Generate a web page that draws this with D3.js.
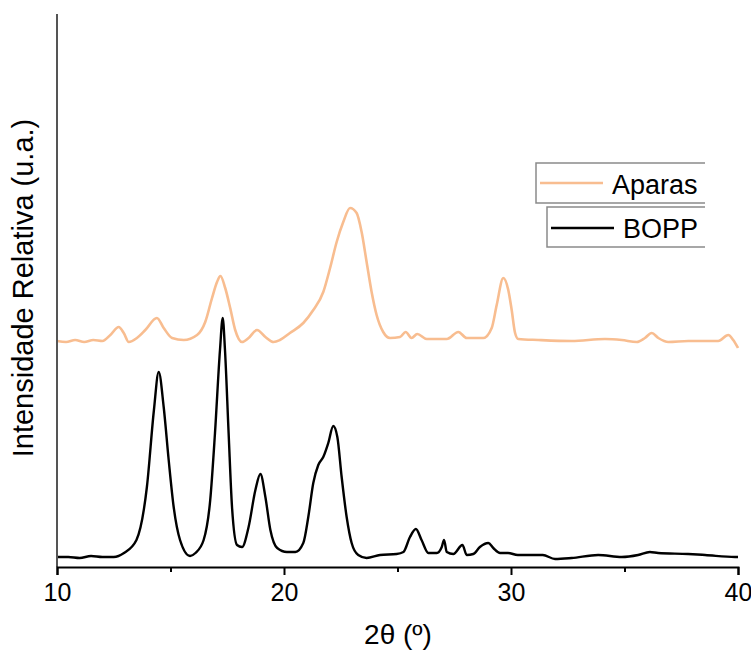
<!DOCTYPE html>
<html>
<head>
<meta charset="utf-8">
<script src="https://cdn.jsdelivr.net/npm/d3@7"></script>
<style>
  html, body { margin: 0; padding: 0; background: #fff; }
  svg { display: block; font-family: "Liberation Sans", Arial, sans-serif; }
</style>
</head>
<body>
<svg id="chart" width="751" height="650"></svg>
<script>
// ---- data (intensity in arbitrary units) ----
const seriesNames = ["Aparas", "BOPP"];
const xTicks = [10, 20, 30, 40];
const xMinorTicks = [15, 25, 35];

const boppTheta = [10.0, 10.5, 11.0, 11.5, 12.0, 12.5, 12.95, 13.5, 13.96, 14.27, 14.48, 14.7, 14.92, 15.14, 15.42, 15.86, 16.1, 16.46, 16.75, 16.96, 17.18, 17.3, 17.4, 17.56, 17.71, 17.93, 18.15, 18.44, 18.74, 18.96, 19.18, 19.4, 19.7, 20.13, 20.5, 20.85, 21.07, 21.29, 21.51, 21.73, 21.95, 22.17, 22.35, 22.54, 22.76, 22.98, 23.27, 23.64, 24.23, 24.96, 25.26, 25.55, 25.81, 26.06, 26.36, 26.73, 26.95, 27.05, 27.17, 27.46, 27.86, 28.05, 28.34, 28.63, 29.0, 29.22, 29.52, 29.87, 30.3, 31.4, 31.94, 32.67, 33.84, 34.88, 35.6, 36.12, 36.48, 37.8, 38.55, 39.87, 40.0];
const boppIntensity = [10, 10, 9, 11, 10, 10, 14, 27, 80, 157, 195, 160, 107, 60, 27, 11, 14, 27, 67, 134, 217, 249, 217, 134, 60, 22, 20, 40, 77, 93, 70, 37, 19, 15, 15, 24, 50, 84, 102, 110, 124, 141, 130, 90, 50, 24, 12, 9, 12, 13, 15, 30, 38, 27, 14, 14, 20, 27, 15, 13, 22, 12, 13, 20, 24, 19, 14, 14, 12, 12, 8, 9, 12, 10, 12, 15, 14, 13, 12, 10, 10];

const aparasTheta = [10.0, 10.4, 10.8, 11.2, 11.6, 12.0, 12.35, 12.72, 12.94, 13.16, 13.52, 13.89, 14.4, 14.7, 15.07, 15.58, 16.17, 16.53, 16.83, 17.05, 17.2, 17.41, 17.63, 17.85, 18.15, 18.44, 18.81, 19.18, 19.54, 19.82, 20.26, 20.85, 21.29, 21.73, 22.03, 22.32, 22.61, 22.91, 23.2, 23.42, 23.64, 23.86, 24.08, 24.37, 24.67, 25.11, 25.36, 25.62, 25.87, 26.29, 27.17, 27.68, 28.05, 28.78, 29.15, 29.37, 29.66, 29.88, 30.03, 30.18, 30.32, 31.2, 32.67, 34.14, 34.88, 35.54, 35.9, 36.2, 36.49, 36.93, 37.81, 39.13, 39.57, 39.79, 40.0];
const aparasIntensity = [226, 225, 227, 225, 227, 226, 232, 240, 234, 225, 229, 237, 249, 239, 229, 227, 232, 245, 269, 285, 291, 279, 259, 237, 225, 229, 237, 230, 225, 227, 234, 244, 257, 275, 299, 325, 345, 359, 354, 335, 305, 275, 252, 235, 229, 230, 235, 229, 233, 228, 228, 235, 229, 229, 239, 262, 289, 277, 257, 234, 228, 227, 226, 228, 227, 225, 229, 234, 229, 225, 226, 226, 232, 227, 219];

const colors = { Aparas: "#f8bd90", BOPP: "#000000" };

// ---- layout ----
const svg = d3.select("#chart");
const x = d3.scaleLinear().domain([10, 40]).range([57, 738]);
const y = d3.scaleLinear().domain([0, 553]).range([567, 14]);

const line = d3.line()
  .x(d => x(d[0]))
  .y(d => y(d[1]))
  .curve(d3.curveMonotoneX);

const aparasData = aparasTheta.map((t, i) => [t, aparasIntensity[i]]);
const boppData = boppTheta.map((t, i) => [t, boppIntensity[i]]);

svg.append("path").datum(aparasData)
  .attr("d", line).attr("fill", "none")
  .attr("stroke", colors.Aparas).attr("stroke-width", 2.6)
  .attr("stroke-linejoin", "round");

svg.append("path").datum(boppData)
  .attr("d", line).attr("fill", "none")
  .attr("stroke", colors.BOPP).attr("stroke-width", 2.4)
  .attr("stroke-linejoin", "round");

// ---- axes ----
// y axis line only
svg.append("line")
  .attr("x1", x(10)).attr("x2", x(10))
  .attr("y1", y(553)).attr("y2", y(0))
  .attr("stroke", "#555").attr("stroke-width", 2);

const xAxis = d3.axisBottom(x).tickValues(xTicks).tickSize(8).tickPadding(8)
  .tickFormat(d3.format("d"));
const gx = svg.append("g").attr("transform", `translate(0,${y(0)})`).call(xAxis);
gx.select(".domain").attr("stroke", "#000").attr("stroke-width", 2);
gx.selectAll(".tick line").attr("stroke", "#000").attr("stroke-width", 2);
gx.selectAll(".tick text").attr("font-size", 25).attr("fill", "#000")
  .attr("font-family", "Liberation Sans, Arial, sans-serif");

const gxMinor = svg.append("g").attr("transform", `translate(0,${y(0)})`)
  .call(d3.axisBottom(x).tickValues(xMinorTicks).tickSize(5).tickFormat(""));
gxMinor.select(".domain").remove();
gxMinor.selectAll(".tick line").attr("stroke", "#000").attr("stroke-width", 2);

// axis titles
svg.append("text")
  .attr("x", 398).attr("y", 644)
  .attr("text-anchor", "middle")
  .attr("font-size", 28).attr("fill", "#000")
  .text("2θ (º)");

svg.append("text")
  .attr("transform", "translate(33,288) rotate(-90)")
  .attr("text-anchor", "middle")
  .attr("font-size", 29).attr("fill", "#000")
  .text("Intensidade Relativa (u.a.)");

// ---- legend (two stacked boxes, open on the right) ----
const legendRows = [
  { name: "Aparas", left: 536, top: 163, bottom: 203, right: 705, l1: 540, l2: 603, ly: 183, tx: 612, ty: 194 },
  { name: "BOPP", left: 547, top: 207, bottom: 247, right: 705, l1: 551, l2: 614, ly: 228, tx: 623, ty: 238 }
];
legendRows.forEach(r => {
  const g = svg.append("g");
  g.append("path")
    .attr("d", `M${r.right},${r.top} H${r.left} V${r.bottom} H${r.right}`)
    .attr("fill", "none").attr("stroke", "#8a8a8a").attr("stroke-width", 1.5);
  g.append("line").attr("x1", r.l1).attr("x2", r.l2).attr("y1", r.ly).attr("y2", r.ly)
    .attr("stroke", colors[r.name]).attr("stroke-width", 2.6);
  g.append("text").attr("x", r.tx).attr("y", r.ty)
    .attr("font-size", 27).attr("fill", "#000").text(r.name);
});
</script>
</body>
</html>
